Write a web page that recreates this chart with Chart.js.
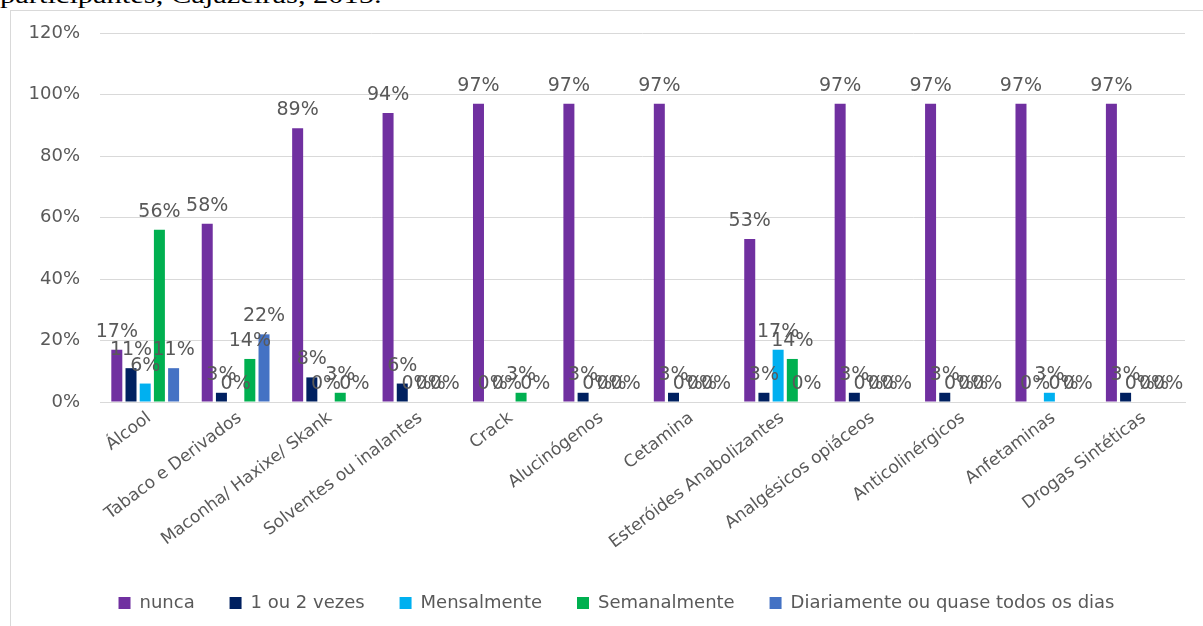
<!DOCTYPE html>
<html>
<head>
    <title>Uso de drogas - participantes</title>
    <script src="https://cdn.jsdelivr.net/npm/chart.js"></script>
    <style>
        body {
            margin: 0;
            background: #fff;
            width: 1203px;
            height: 626px;
            overflow: hidden;
            position: relative;
        }
        .caption {
            position: absolute;
            left: 0;
            top: -17px;
            font-family: "Liberation Serif", serif;
            font-size: 24px;
            line-height: 1;
            color: #000;
            transform: scaleX(1.27);
            transform-origin: left top;
            white-space: nowrap;
        }
        .frame {
            position: absolute;
            left: 10px;
            top: 10px;
            width: 1300px;
            height: 700px;
            border: 1px solid #d9d9d9;
        }
        #drugChart {
            position: absolute;
            left: 0;
            top: 0;
        }
    </style>
</head>
<body>
    <div class="caption">participantes, Cajazeiras, 2015.</div>
    <div class="frame"></div>
    <canvas id="drugChart" width="1203" height="626"></canvas>

    <script>
        // categories and series (values in %)
        const categories = ['Álcool', 'Tabaco e Derivados', 'Maconha/ Haxixe/ Skank', 'Solventes ou inalantes',
            'Crack', 'Alucinógenos', 'Cetamina', 'Esteróides Anabolizantes', 'Analgésicos opiáceos',
            'Anticolinérgicos', 'Anfetaminas', 'Drogas Sintéticas'];
        const nunca        = [17, 58, 89, 94, 97, 97, 97, 53, 97, 97, 97, 97];
        const umOuDuas     = [11, 3, 8, 6, 0, 3, 3, 3, 3, 3, 0, 3];
        const mensalmente  = [6, 0, 0, 0, 0, 0, 0, 17, 0, 0, 3, 0];
        const semanalmente = [56, 14, 3, 0, 3, 0, 0, 14, 0, 0, 0, 0];
        const diariamente  = [11, 22, 0, 0, 0, 0, 0, 0, 0, 0, 0, 0];
        const yTicks = [0, 20, 40, 60, 80, 100, 120];

        const labelColor = '#595959';
        const gridColor = '#d9d9d9';

        // value labels above each bar
        const barLabels = {
            id: 'barLabels',
            afterDatasetsDraw(chart) {
                const ctx = chart.ctx;
                ctx.save();
                ctx.font = '19px "DejaVu Sans"';
                ctx.fillStyle = labelColor;
                ctx.textAlign = 'center';
                ctx.textBaseline = 'alphabetic';
                chart.data.datasets.forEach((ds, i) => {
                    const meta = chart.getDatasetMeta(i);
                    meta.data.forEach((bar, j) => {
                        ctx.fillText(ds.data[j] + '%', bar.x, bar.y - 13);
                    });
                });
                ctx.restore();
            }
        };

        // nudge the legend row a bit to the right, like the original
        const legendShift = {
            id: 'legendShift',
            afterLayout(chart) {
                chart.legend.left += 14;
                chart.legend.right += 14;
            }
        };

        const ctx = document.getElementById('drugChart').getContext('2d');
        const drugChart = new Chart(ctx, {
            type: 'bar',
            data: {
                labels: categories,
                datasets: [
                    { label: 'nunca', data: nunca, backgroundColor: '#7030A0' },
                    { label: '1 ou 2 vezes', data: umOuDuas, backgroundColor: '#002060' },
                    { label: 'Mensalmente', data: mensalmente, backgroundColor: '#00B0F0' },
                    { label: 'Semanalmente', data: semanalmente, backgroundColor: '#00B050' },
                    { label: 'Diariamente ou quase todos os dias', data: diariamente, backgroundColor: '#4472C4' }
                ]
            },
            options: {
                responsive: false,
                animation: false,
                categoryPercentage: 0.785,
                barPercentage: 0.775,
                layout: {
                    padding: { top: 33, left: 20, right: 18, bottom: 4 }
                },
                scales: {
                    x: {
                        grid: { display: false, drawTicks: false },
                        border: { color: gridColor },
                        afterFit: (scale) => { scale.height = 180; },
                        ticks: {
                            autoSkip: false,
                            minRotation: 37,
                            maxRotation: 37,
                            labelOffset: 4,
                            padding: 6,
                            color: labelColor,
                            font: { family: 'DejaVu Sans', size: 17 }
                        }
                    },
                    y: {
                        min: 0,
                        max: 120,
                        afterFit: (scale) => { scale.width = 80; },
                        afterBuildTicks: (scale) => {
                            scale.ticks = yTicks.map(v => ({ value: v }));
                        },
                        grid: { color: gridColor, drawTicks: false },
                        border: { display: false },
                        ticks: {
                            padding: 20,
                            color: labelColor,
                            font: { family: 'DejaVu Sans', size: 18 },
                            callback: (v) => v + '%'
                        }
                    }
                },
                plugins: {
                    legend: {
                        position: 'bottom',
                        labels: {
                            boxWidth: 12,
                            boxHeight: 12,
                            padding: 12,
                            color: labelColor,
                            font: { family: 'DejaVu Sans', size: 18 },
                            generateLabels: (chart) => {
                                const items = Chart.defaults.plugins.legend.labels.generateLabels(chart);
                                // extra gap between legend entries
                                items.forEach((it, i) => {
                                    if (i < items.length - 1) it.text = it.text + '    ';
                                });
                                return items;
                            }
                        }
                    },
                    tooltip: { enabled: false }
                }
            },
            plugins: [barLabels, legendShift]
        });
    </script>
</body>
</html>
